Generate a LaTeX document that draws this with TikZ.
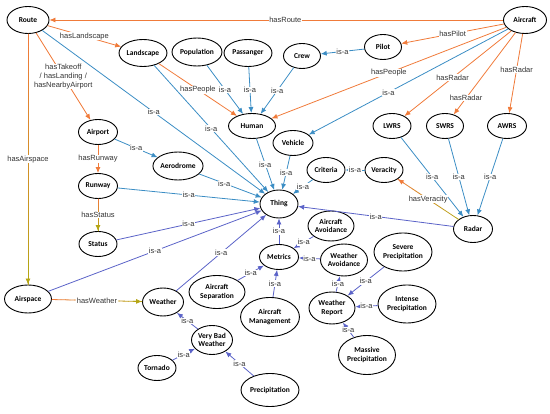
\documentclass[tikz,border=0pt]{standalone}
\usepackage{fontspec}
\setmainfont{Liberation Sans}
\newfontfamily\entfont{Carlito}
\usetikzlibrary{arrows.meta,calc,shapes.geometric}
\definecolor{ora}{HTML}{F07B3A}
\definecolor{blu}{HTML}{3B8DC4}
\definecolor{pur}{HTML}{5B63C8}
\definecolor{oli}{HTML}{B5A514}
\definecolor{labgray}{HTML}{333333}
\newcommand\gradedge[5]{%
  \path (#1) -- (#2) coordinate[pos=0] (gs) coordinate[pos=1] (ge);
  \foreach \k in {0,...,19}{%
    \pgfmathsetmacro\ta{\k/20}%
    \pgfmathsetmacro\tb{(\k+1)/20}%
    \pgfmathtruncatemacro\cc{100-\k*5}%
    \draw[line width=0.8pt, line cap=round, color=#3!\cc!#4] ($(gs)!\ta!(ge)$) -- ($(gs)!\tb!(ge)$);
  }
  \draw[-{Latex[length=6pt,width=5pt]}, line width=0.8pt, color=#4] ($(gs)!0.9!(ge)$) -- (ge);
  \path (gs) -- (ge) node[lab, pos=0.5] {#5};
}
\begin{document}
\begin{tikzpicture}[x=1pt,y=-1pt,
  ent/.style={draw=black, line width=0.9pt, ellipse, inner sep=0pt, align=center,
    font=\entfont\bfseries\fontsize{7.5}{8.6}\selectfont, fill=white},
  sz/.style 2 args={minimum width=#1pt, minimum height=#2pt},
  lab/.style={fill=white, inner sep=0.6pt, align=center, text=labgray,
    font=\fontsize{7.5}{8.8}\selectfont},
  isa/.style={draw=blu, line width=0.8pt, -{Latex[length=6pt,width=5pt]}},
  isp/.style={draw=pur, line width=0.8pt, -{Latex[length=6pt,width=5pt]}},
  has/.style={draw=ora, line width=0.8pt, -{Latex[length=6pt,width=5pt]}},
]
\useasboundingbox (0,0) rectangle (550,414);

% nodes
\node[ent, sz={42}{27}] (route) at (28,20) {Route};
\node[ent, sz={43}{27}] (aircraft) at (525,20) {Aircraft};
\node[ent, sz={48}{27}] (landscape) at (143,53) {Landscape};
\node[ent, sz={50}{28}] (population) at (197,52) {Population};
\node[ent, sz={48}{27}] (passanger) at (248,53) {Passanger};
\node[ent, sz={37}{25}] (crew) at (302,56) {Crew};
\node[ent, sz={37}{25}] (pilot) at (383,47) {Pilot};
\node[ent, sz={47}{25}] (human) at (252,126) {Human};
\node[ent, sz={40}{25}] (vehicle) at (293,143) {Vehicle};
\node[ent, sz={38}{25}] (criteria) at (326,170) {Criteria};
\node[ent, sz={38}{25}] (veracity) at (384,170) {Veracity};
\node[ent, sz={38}{25}] (lwrs) at (392,126) {LWRS};
\node[ent, sz={37}{25}] (swrs) at (445,126) {SWRS};
\node[ent, sz={39}{25}] (awrs) at (507,126) {AWRS};
\node[ent, sz={38}{28}] (thing) at (279,204) {Thing};
\node[ent, sz={39}{25}] (airport) at (98,132) {Airport};
\node[ent, sz={45}{28}] (aerodrome) at (178,166) {Aerodrome};
\node[ent, sz={39}{25}] (runway) at (98,186) {Runway};
\node[ent, sz={38}{25}] (status) at (98,244) {Status};
\node[ent, sz={47}{28}] (airspace) at (28,299) {Airspace};
\node[ent, sz={41}{28}] (weather) at (163,302) {Weather};
\node[ent, sz={56}{33}] (asep) at (217,292) {Aircraft\\Separation};
\node[ent, sz={41}{29}] (vbw) at (212,340) {Very Bad\\Weather};
\node[ent, sz={38}{25}] (tornado) at (157,368) {Tornado};
\node[ent, sz={58}{33}] (precip) at (270,390) {Precipitation};
\node[ent, sz={39}{25}] (metrics) at (279,257) {Metrics};
\node[ent, sz={46}{30}] (aavoid) at (331,226) {Aircraft\\Avoidance};
\node[ent, sz={47}{32}] (wavoid) at (344,260) {Weather\\Avoidance};
\node[ent, sz={58}{38}] (severe) at (403,252) {Severe\\Precipitation};
\node[ent, sz={46}{32}] (wreport) at (332,308) {Weather\\Report};
\node[ent, sz={58}{38}] (intense) at (407,304) {Intense\\Precipitation};
\node[ent, sz={57}{39}] (massive) at (367,355) {Massive\\Precipitation};
\node[ent, sz={58}{39}] (amanage) at (270,317) {Aircraft\\Management};
\node[ent, sz={39}{27}] (radar) at (473,229) {Radar};

% orange relations
\draw[has] (aircraft) -- node[lab, pos=0.48] {hasRoute} (route);
\draw[has] (route) -- node[lab] {hasLandscape} (landscape);
\draw[has] (route) -- node[lab] {hasTakeoff\\/ hasLanding /\\hasNearbyAirport} (airport);
\draw[has] (airport) -- node[lab] {hasRunway} (runway);
\draw[has] (landscape) -- node[lab] {hasPeople} (human);
\draw[has] (aircraft) -- node[lab] {hasPeople} (human);
\draw[has] (aircraft) -- node[lab] {hasPilot} (pilot);
\draw[has] (aircraft) -- node[lab, pos=0.55] {hasRadar} (lwrs);
\draw[has] (aircraft) -- node[lab, pos=0.8] {hasRadar} (swrs);
\draw[has] (aircraft) -- node[lab, pos=0.45] {hasRadar} (awrs);
\gradedge{route}{airspace}{ora}{oli}{hasAirspace}
\gradedge{runway}{status}{ora}{oli}{hasStatus}
\gradedge{airspace}{weather}{ora}{oli}{hasWeather}

% blue is-a
\draw[isa] (aircraft) -- node[lab, pos=0.6] {is-a} (vehicle);
\draw[isa] (pilot) -- node[lab] {is-a} (crew);
\draw[isa] (crew) -- node[lab] {is-a} (human);
\draw[isa] (population) -- node[lab] {is-a} (human);
\draw[isa] (passanger) -- node[lab] {is-a} (human);
\draw[isa] (human) -- node[lab] {is-a} (thing);
\draw[isa] (vehicle) -- node[lab] {is-a} (thing);
\draw[isa] (criteria) -- node[lab] {is-a} (thing);
\draw[isa] (veracity) -- node[lab] {is-a} (criteria);
\draw[isa] (lwrs) -- node[lab] {is-a} (radar);
\draw[isa] (swrs) -- node[lab] {is-a} (radar);
\draw[isa] (awrs) -- node[lab] {is-a} (radar);
\draw[isa] (route) -- node[lab] {is-a} (thing);
\draw[isa] (landscape) -- node[lab] {is-a} (thing);
\draw[isa] (airport) -- node[lab] {is-a} (aerodrome);
\draw[isa] (aerodrome) -- node[lab, pos=0.4] {is-a} (thing);
\draw[isa] (runway) -- node[lab] {is-a} (thing);

% purple is-a
\draw[isp] (status) -- node[lab] {is-a} (thing);
\draw[isp] (airspace) -- node[lab] {is-a} (thing);
\draw[isp] (weather) -- node[lab] {is-a} (thing);
\draw[isp] (radar) -- node[lab] {is-a} (thing);
\draw[isp] (metrics) -- node[lab] {is-a} (thing);
\draw[isp] (aavoid) -- node[lab] {is-a} (metrics);
\draw[isp] (wavoid) -- node[lab] {is-a} (metrics);
\draw[isp] (asep) -- node[lab] {is-a} (metrics);
\draw[isp] (amanage) -- node[lab] {is-a} (metrics);
\draw[isp] (wreport) -- node[lab] {is-a} (wavoid);
\draw[isp] (severe) -- node[lab] {is-a} (wreport);
\draw[isp] (intense) -- node[lab] {is-a} (wreport);
\draw[isp] (massive) -- node[lab] {is-a} (wreport);
\draw[isp] (vbw) -- node[lab] {is-a} (weather);
\draw[isp] (tornado) -- node[lab] {is-a} (vbw);
\draw[isp] (precip) -- node[lab] {is-a} (vbw);

\gradedge{radar}{veracity}{oli}{ora}{hasVeracity}
\end{tikzpicture}
\end{document}
